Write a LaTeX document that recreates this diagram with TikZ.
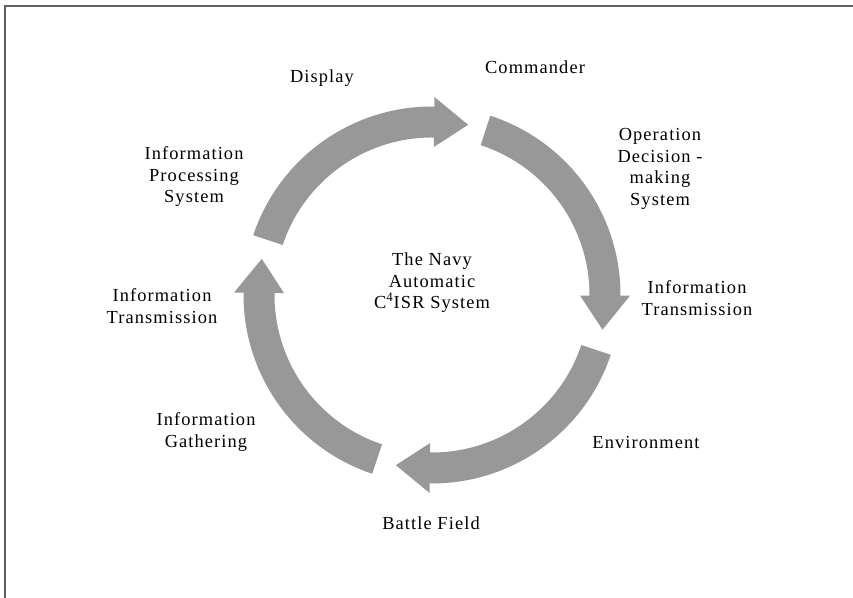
\documentclass[tikz,border=0pt]{standalone}
\usepackage{fontspec}
\setmainfont{Liberation Serif}[LetterSpace=6]
\usepackage{xcolor}
\usepackage{tikz}
\definecolor{cycleGray}{RGB}{152,152,152}
\definecolor{frameGray}{RGB}{96,96,96}
% curved cycle arrow: #1 = tail angle, #2 = tip angle
\newcommand{\cycleArrow}[2]{%
  \fill[cycleGray] (#1:188.5) arc[start angle=#1, end angle=#2+11.3, radius=188.5]
    -- (#2+11.3:198) -- (#2:174) -- (#2+11.3:148) -- (#2+11.3:157.5)
    arc[start angle=#2+11.3, end angle=#1, radius=157.5] -- cycle;}

\begin{document}
\begin{tikzpicture}[x=0.5pt, y=0.5pt, font={\fontsize{9.2}{10.75}\selectfont},
    label text/.style={align=center, inner sep=0pt}]
    \useasboundingbox (0,0) rectangle (853,598);

    % Frame (top and left edges)
    \draw[frameGray, line width=1pt] (4.8,0) -- (4.8,592.2) -- (853,592.2);

    % Cycle arrows
    \begin{scope}[shift={(432,303)}]
        \cycleArrow{161.5}{78}
        \cycleArrow{72}{-11.5}
        \cycleArrow{-18.5}{-102}
        \cycleArrow{-108.5}{-192}
    \end{scope}

    % Labels round the cycle
    \node[label text] (display) at (322,520) {Display};
    \node[label text] (commander) at (535,531) {Commander};
    \node[label text] (opdecision) at (660,429) {Operation\\Decision -\\making\\System};
    \node[label text] (transright) at (697,300) {Information\\Transmission};
    \node[label text] (environment) at (646,155) {Environment};
    \node[label text] (battlefield) at (431,75) {Battle Field};
    \node[label text] (gathering) at (206,166) {Information\\Gathering};
    \node[label text] (transleft) at (162,292) {Information\\Transmission};
    \node[label text] (procsys) at (194,421) {Information\\Processing\\System};

    % Centre title
    \node[label text] (navy) at (432,315) {The Navy\\Automatic\\C\textsuperscript{4}ISR System};
\end{tikzpicture}
\end{document}
